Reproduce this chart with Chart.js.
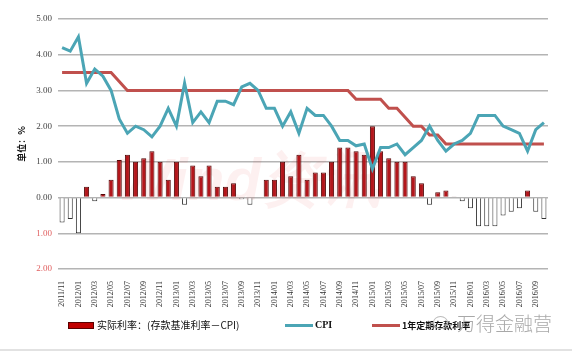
<!DOCTYPE html>
<html>
<head>
<meta charset="utf-8">
<script src="https://cdn.jsdelivr.net/npm/chart.js@4/dist/chart.umd.min.js"></script>
<style>
  body { margin: 0; background: #fff; }
  #wrap { position: relative; width: 572px; height: 352px; overflow: hidden; }
  #mChart { position: absolute; left: 0; top: 0; }
  .lg { position: absolute; white-space: nowrap; color: #111; }
  .frame { position: absolute; left: 0; top: 349px; width: 572px; height: 2px; background: #e2e2e2; }
</style>
</head>
<body>
<div id="wrap">
  <canvas id="mChart" width="572" height="352"></canvas>
  <div class="lg" style="left:68px;top:322px;width:24px;height:5px;background:#c00000;border:1px solid #5a0000;"></div>
  <div class="lg" style="left:97px;top:318px;font:10px 'Noto Sans CJK SC';line-height:14px;">实际利率：(存款基准利率－CPI)</div>
  <div class="lg" style="left:285px;top:324px;width:28px;height:3px;background:#4ba5b5;"></div>
  <div class="lg" style="left:315px;top:318px;font:bold 10px 'Liberation Serif';line-height:14px;">CPI</div>
  <div class="lg" style="left:372px;top:324px;width:28px;height:3px;background:#c0504d;"></div>
  <div class="lg" style="left:402px;top:319px;font:bold 9px 'Noto Sans CJK SC';line-height:13px;">1年定期存款利率</div>
  <div class="lg" style="left:433px;top:316px;width:13px;height:11px;border:1px solid #bbb;border-radius:50%;"></div>
  <div class="lg" style="left:457px;top:311px;font:300 19px 'Noto Sans CJK SC';line-height:24px;color:#a8a8a8;">万得金融营</div>
  <div class="frame"></div>
</div>
<script>
const months = [
  '2011/11', '2011/12',
  '2012/01', '2012/02', '2012/03', '2012/04', '2012/05', '2012/06', '2012/07', '2012/08', '2012/09', '2012/10', '2012/11', '2012/12',
  '2013/01', '2013/02', '2013/03', '2013/04', '2013/05', '2013/06', '2013/07', '2013/08', '2013/09', '2013/10', '2013/11', '2013/12',
  '2014/01', '2014/02', '2014/03', '2014/04', '2014/05', '2014/06', '2014/07', '2014/08', '2014/09', '2014/10', '2014/11', '2014/12',
  '2015/01', '2015/02', '2015/03', '2015/04', '2015/05', '2015/06', '2015/07', '2015/08', '2015/09', '2015/10', '2015/11', '2015/12',
  '2016/01', '2016/02', '2016/03', '2016/04', '2016/05', '2016/06', '2016/07', '2016/08', '2016/09', '2016/10'
];

// 实际利率 = 存款基准利率 - CPI
const realRate = [
  -0.7, -0.6,
  -1.0, 0.3, -0.1, 0.1, 0.5, 1.05, 1.2, 1.0, 1.1, 1.3, 1.0, 0.5,
  1.0, -0.2, 0.9, 0.6, 0.9, 0.3, 0.3, 0.4, -0.05, -0.2, -0.02, 0.5,
  0.5, 1.0, 0.6, 1.2, 0.5, 0.7, 0.7, 1.0, 1.4, 1.4, 1.3, 1.2,
  2.0, 1.3, 1.1, 1.0, 1.0, 0.6, 0.4, -0.2, 0.15, 0.2, 0.03, -0.1,
  -0.3, -0.8, -0.8, -0.8, -0.5, -0.4, -0.3, 0.2, -0.4, -0.6
];

const cpi = [
  4.2, 4.1,
  4.5, 3.2, 3.6, 3.4, 3.0, 2.2, 1.8, 2.0, 1.9, 1.7, 2.0, 2.5,
  2.0, 3.2, 2.1, 2.4, 2.1, 2.7, 2.7, 2.6, 3.1, 3.2, 3.0, 2.5,
  2.5, 2.0, 2.4, 1.8, 2.5, 2.3, 2.3, 2.0, 1.6, 1.6, 1.45, 1.5,
  0.8, 1.4, 1.4, 1.5, 1.2, 1.4, 1.6, 2.0, 1.6, 1.3, 1.5, 1.6,
  1.8, 2.3, 2.3, 2.3, 2.0, 1.9, 1.8, 1.3, 1.9, 2.1
];

// 1年定期存款利率
const depositRate = [
  3.5, 3.5,
  3.5, 3.5, 3.5, 3.5, 3.5, 3.25, 3.0, 3.0, 3.0, 3.0, 3.0, 3.0,
  3.0, 3.0, 3.0, 3.0, 3.0, 3.0, 3.0, 3.0, 3.0, 3.0, 3.0, 3.0,
  3.0, 3.0, 3.0, 3.0, 3.0, 3.0, 3.0, 3.0, 3.0, 3.0, 2.75, 2.75,
  2.75, 2.75, 2.5, 2.5, 2.25, 2.0, 2.0, 1.75, 1.75, 1.5, 1.5, 1.5,
  1.5, 1.5, 1.5, 1.5, 1.5, 1.5, 1.5, 1.5, 1.5, 1.5
];

const yTicks = [-2, -1, 0, 1, 2, 3, 4, 5];

document.addEventListener('DOMContentLoaded', () => {
    const canvas = document.getElementById('mChart');
    const ctx = canvas.getContext('2d');

    new Chart(ctx, {
        type: 'bar',
        data: {
            labels: months,
            datasets: [{
                type: 'line',
                label: 'CPI',
                data: cpi,
                borderColor: '#4ba5b5',
                borderWidth: 3,
                pointRadius: 0,
                tension: 0,
                order: 0
            }, {
                type: 'line',
                label: '1年定期存款利率',
                data: depositRate,
                borderColor: '#c0504d',
                borderWidth: 3,
                pointRadius: 0,
                tension: 0,
                order: 1
            }, {
                label: '实际利率：(存款基准利率－CPI)',
                data: realRate,
                backgroundColor: realRate.map(v => v >= 0 ? '#b3161b' : '#ffffff'),
                borderColor: realRate.map(v => v >= 0 ? '#520808' : '#333333'),
                borderWidth: 1,
                barPercentage: 0.62,
                categoryPercentage: 1,
                order: 2
            }]
        },
        options: {
            responsive: false,
            animation: false,
            layout: {
                padding: { top: 19, right: 24, bottom: 42, left: 0 }
            },
            scales: {
                x: {
                    grid: { display: false },
                    border: { display: false },
                    ticks: {
                        autoSkip: false,
                        minRotation: 90,
                        maxRotation: 90,
                        padding: 4,
                        color: '#333',
                        font: { family: 'Liberation Serif', size: 8 },
                        callback: function(value, index) {
                            return index % 2 === 0 ? months[index] : '';
                        }
                    },
                    afterFit: (scale) => { scale.height = 41; }
                },
                y: {
                    min: -2,
                    max: 5,
                    afterBuildTicks: (scale) => { scale.ticks = yTicks.map(v => ({ value: v })); },
                    grid: { color: '#b4b4b4', lineWidth: 1.5, drawTicks: false },
                    border: { display: false },
                    ticks: {
                        padding: 6,
                        font: { family: 'Liberation Serif', size: 9 },
                        color: (c) => c.tick && c.tick.value < 0 ? '#e06060' : '#444',
                        callback: (value) => Math.abs(value).toFixed(2)
                    },
                    title: {
                        display: true,
                        text: '单位：%',
                        color: '#111',
                        font: { family: 'Noto Sans CJK SC', size: 9, weight: 'bold' },
                        padding: { top: 16, bottom: 0 }
                    },
                    afterFit: (scale) => { scale.width = 58; }
                }
            },
            plugins: {
                legend: { display: false },
                tooltip: { enabled: false }
            }
        },
        plugins: [{
            id: 'windMark',
            beforeDatasetsDraw: (chart) => {
                const c = chart.ctx;
                c.save();
                c.font = 'italic bold 60px "Liberation Sans"';
                c.fillStyle = 'rgba(225, 70, 70, 0.08)';
                c.textBaseline = 'alphabetic';
                c.fillText('Wind资讯', 115, 200);
                c.restore();
            }
        }]
    });
});
</script>
</body>
</html>
